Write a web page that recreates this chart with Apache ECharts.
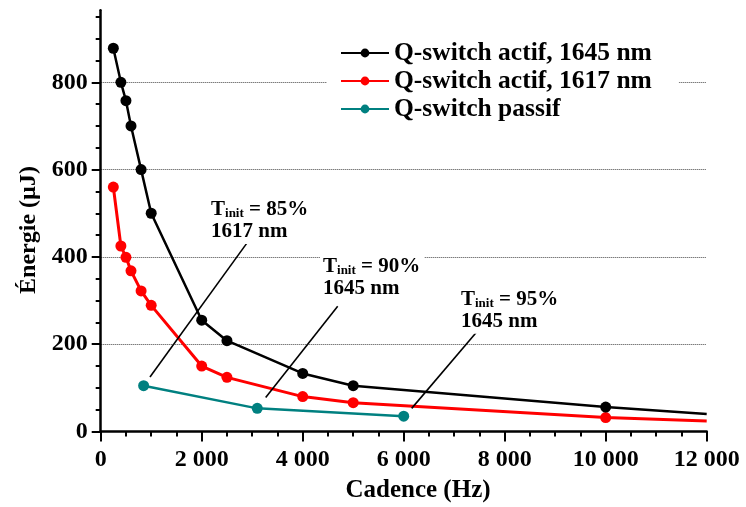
<!DOCTYPE html>
<html><head><meta charset="utf-8">
<script src="https://cdn.jsdelivr.net/npm/echarts@6/dist/echarts.min.js"></script>
<style>html,body{margin:0;padding:0;background:#fff}#c{width:746px;height:507px}</style>
</head><body><div id="c"></div>
<script>
// ---- data ----
const cadence = [250, 400, 500, 600, 800, 1000, 2000, 2500, 4000, 5000, 10000, 12000];
const actif1645 = [878, 800, 758, 700, 600, 500, 255, 208, 133, 105, 56, 40];
const actif1617 = [560, 425, 399, 368, 322, 289, 150, 124, 80, 66, 32, 24];
const passifCadence = [850, 3100, 6000];
const passifEnergy = [105, 53, 35];
const seriesNames = ['Q-switch actif, 1645 nm', 'Q-switch actif, 1617 nm', 'Q-switch passif'];
const xTicks = [0, 2000, 4000, 6000, 8000, 10000, 12000];
const yTicks = [0, 200, 400, 600, 800];
const yMinorStep = 50;
const yTop = 950;
// annotations (data units)
const annPct = ['85%', '90%', '95%'];
const annWave = ['1617 nm', '1645 nm', '1645 nm'];
const annTextAt = [[2125, 542], [4343, 411], [7075, 336]];
const annLineFrom = [[2891, 431], [4693, 287], [7432, 226]];
const annLineTo = [[976, 125], [3267, 78], [6158, 53]];

const FONT = 'Liberation Serif';
const chart = echarts.init(document.getElementById('c'), null, {renderer: 'canvas'});
const lastIdx = cadence.length - 1;
const mk = (xs, ys) => xs.map((x, i) => [x, ys[i]]);
const symFn = (v, p) => (p.dataIndex === lastIdx ? 0 : 11);
const yMinorVals = [];
for (let v = 0; v <= yTop; v += yMinorStep) yMinorVals.push(v);
const Y_MAX = 965;

chart.setOption({
  animation: false,
  backgroundColor: '#fff',
  grid: {left: 100.7, right: 39.3, top: 431.5 - Y_MAX * 0.4365, bottom: 75.5},
  xAxis: {
    type: 'value', min: 0, max: 12000, interval: 2000,
    axisLine: {onZero: false, lineStyle: {color: '#000', width: 2.5}},
    axisTick: {length: 10, lineStyle: {color: '#000', width: 2}},
    minorTick: {show: true, splitNumber: 4, length: 5, lineStyle: {color: '#000', width: 2}},
    splitLine: {show: false},
    axisLabel: {
      margin: 16, color: '#000', fontFamily: FONT, fontWeight: 'bold', fontSize: 24,
      formatter: v => xTicks.includes(v) ? String(v).replace(/\B(?=(\d{3})+(?!\d))/g, ' ') : ''
    }
  },
  yAxis: [
    {
      type: 'value', min: 0, max: Y_MAX, interval: 200, position: 'left', offset: 0,
      axisLine: {show: true, onZero: false, lineStyle: {color: '#000', width: 2.5}},
      axisTick: {show: true, length: 9, customValues: yTicks, lineStyle: {color: '#000', width: 2}},
      splitLine: {show: true, lineStyle: {color: '#444', width: 1, type: 'dotted'}},
      axisLabel: {
        margin: 13, color: '#000', fontFamily: FONT, fontWeight: 'bold', fontSize: 24,
        customValues: yTicks, formatter: v => String(v)
      }
    },
    {
      type: 'value', min: 0, max: Y_MAX, position: 'left', offset: 0,
      axisLine: {show: false},
      axisTick: {show: true, length: 5, customValues: yMinorVals, lineStyle: {color: '#000', width: 2}},
      splitLine: {show: false},
      axisLabel: {show: false}
    }
  ],
  legend: {
    orient: 'vertical', left: 327, top: 32,
    padding: [8, 27, 8, 13], backgroundColor: '#fff',
    itemWidth: 48, itemHeight: 11, itemGap: 2,
    textStyle: {color: '#000', fontFamily: FONT, fontWeight: 'bold', fontSize: 25.5},
    data: seriesNames
  },
  series: [
    {
      name: seriesNames[0], type: 'line', data: mk(cadence, actif1645),
      symbol: 'circle', symbolSize: symFn, color: '#000',
      lineStyle: {width: 2.5, color: '#000'}, itemStyle: {color: '#000'}, z: 3
    },
    {
      name: seriesNames[1], type: 'line', data: mk(cadence, actif1617),
      symbol: 'circle', symbolSize: symFn, color: '#ff0000',
      lineStyle: {width: 3, color: '#ff0000'}, itemStyle: {color: '#ff0000'}, z: 2
    },
    {
      name: seriesNames[2], type: 'line', data: mk(passifCadence, passifEnergy),
      symbol: 'circle', symbolSize: 11, color: '#008080',
      lineStyle: {width: 2.5, color: '#008080'}, itemStyle: {color: '#008080'}, z: 4,
      markLine: {
        silent: true, symbol: ['none', 'none'], animation: false,
        lineStyle: {color: '#000', width: 1.6, type: 'solid'},
        label: {show: false}, emphasis: {disabled: true},
        data: annLineFrom.map((f, i) => [{coord: f}, {coord: annLineTo[i]}])
      },
      markPoint: {
        silent: true, symbol: 'circle', symbolSize: 0, animation: false,
        itemStyle: {color: 'transparent'},
        label: {
          show: true, position: [0, 0], align: 'left', verticalAlign: 'top',
          backgroundColor: '#fff', padding: [3, 4, 2, 3], lineHeight: 22,
          rich: {
            t: {fontFamily: FONT, fontWeight: 'bold', fontSize: 21, color: '#000', verticalAlign: 'bottom', lineHeight: 22},
            s: {fontFamily: FONT, fontWeight: 'bold', fontSize: 13, color: '#000', verticalAlign: 'bottom', lineHeight: 22}
          }
        },
        data: annTextAt.map((c, i) => ({
          coord: c,
          label: {formatter: '{t|T}{s|init}{t| = ' + annPct[i] + '}\n{t|' + annWave[i] + '}'}
        }))
      }
    }
  ],
  graphic: [
    {type: 'text', x: 29, y: 230, rotation: Math.PI / 2,
      style: {text: 'Énergie (µJ)', fill: '#000', font: 'bold 24px "Liberation Serif"', align: 'center', verticalAlign: 'middle'}},
    {type: 'text', x: 418, y: 491,
      style: {text: 'Cadence (Hz)', fill: '#000', font: 'bold 25px "Liberation Serif"', align: 'center', verticalAlign: 'middle'}}
  ]
});
</script></body></html>
